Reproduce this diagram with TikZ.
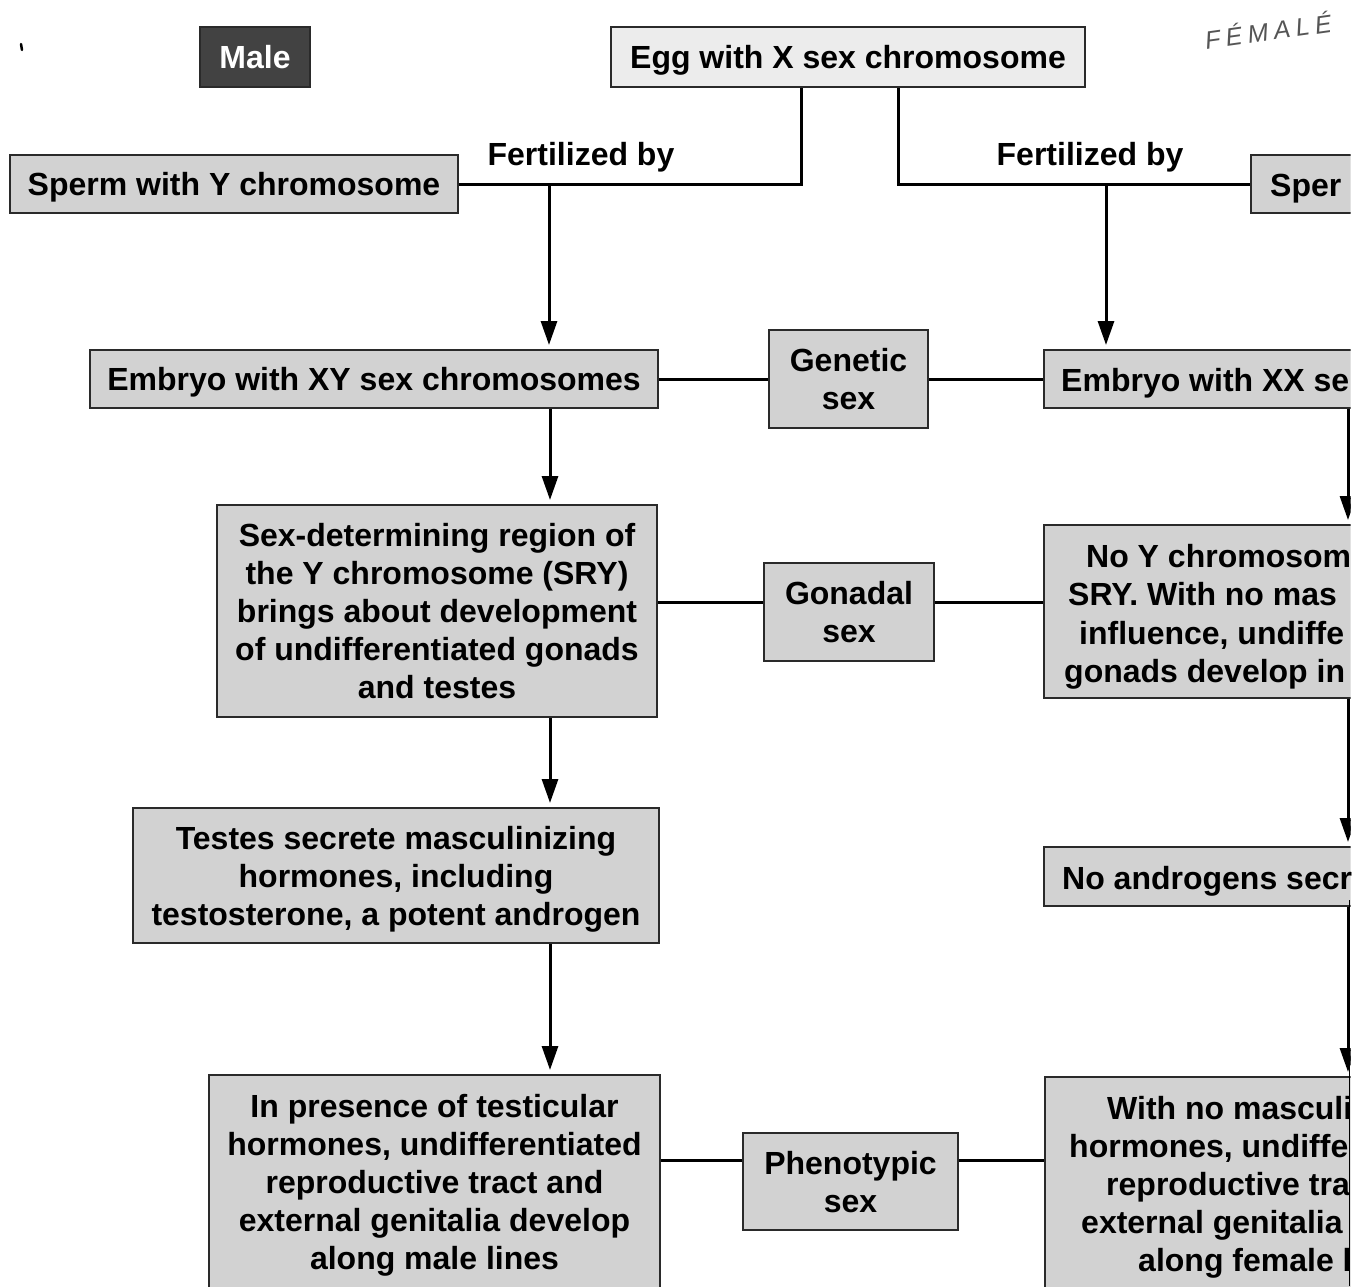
\documentclass[tikz,border=0pt]{standalone}
\usepackage{fontspec}
\setmainfont{Liberation Sans}
\newfontfamily\handfont[LetterSpace=22]{Liberation Sans}
\usetikzlibrary{arrows.meta}
\definecolor{boxfill}{HTML}{D2D2D2}
\definecolor{eggfill}{HTML}{ECECEC}
\definecolor{maledark}{HTML}{424242}
\definecolor{edge}{HTML}{2A2A2A}
\definecolor{handgray}{HTML}{555555}
\begin{document}
\begin{tikzpicture}[x=1pt,y=-1pt,
  gbox/.style={draw=edge, line width=2pt, fill=boxfill, inner sep=0pt, align=center,
               font=\fontsize{32}{38}\selectfont\bfseries, text=black, text depth=0pt},
  txt/.style={font=\fontsize{32}{38}\selectfont\bfseries, inner sep=0pt, text=black},
  conn/.style={line width=3pt, draw=black},
  arr/.style={conn, -{Triangle[length=24pt,width=16pt]}, shorten >=4pt}]
\useasboundingbox (0,0) rectangle (1369,1286);
\begin{scope}
\clip (0,0) rectangle (1350.5,1286);
% top row
\node[gbox, fill=maledark, text=white, minimum width=110pt, minimum height=60pt] (male) at (255,57) {Male};
\node[gbox, fill=eggfill, minimum width=474pt, minimum height=60pt] (egg) at (848,57) {Egg with X sex chromosome};
\node[font=\handfont\itshape\fontsize{25}{25}\selectfont, text=handgray, rotate=8, inner sep=0pt] (fem) at (1268,30) {FÉMALÉ};
\draw[line width=2.5pt, line cap=round] (21,44) -- (22,50);
% sperm row
\node[gbox, minimum width=448pt, minimum height=58pt] (spy) at (234,184) {Sperm with Y chromosome};
\node[gbox, minimum width=160pt, minimum height=58pt, anchor=west] (spx) at (1250,184) {};
\node[txt, text depth=0pt] (fl) at (581,154) {Fertilized by};
\node[txt, text depth=0pt] (fr) at (1090,154) {Fertilized by};
% genetic row
\node[gbox, minimum width=568pt, minimum height=58pt] (exy) at (374,379) {Embryo with XY sex chromosomes};
\node[gbox, minimum width=159pt, minimum height=98pt] (gen) at (848.5,379) {Genetic\\sex};
\node[gbox, minimum width=340pt, minimum height=58pt, anchor=west] (exx) at (1043,379) {};
% gonadal row
\node[gbox, minimum width=440pt, minimum height=212pt] (sry) at (437,611) {Sex-determining region of\\the Y chromosome (SRY)\\brings about development\\of undifferentiated gonads\\and testes};
\node[gbox, minimum width=170pt, minimum height=98pt] (gon) at (849,612) {Gonadal\\sex};
\node[gbox, minimum width=340pt, minimum height=173pt, anchor=west] (noy) at (1043,611.5) {};
% hormone row
\node[gbox, minimum width=526pt, minimum height=135pt] (tes) at (396,875.5) {Testes secrete masculinizing\\hormones, including\\testosterone, a potent androgen};
\node[gbox, minimum width=340pt, minimum height=59pt, anchor=west] (noa) at (1043,876.5) {};
% phenotypic row
\node[gbox, minimum width=451pt, minimum height=214pt] (inp) at (434.5,1182) {In presence of testicular\\hormones, undifferentiated\\reproductive tract and\\external genitalia develop\\along male lines};
\node[gbox, minimum width=215pt, minimum height=97pt] (phen) at (850.5,1181.5) {Phenotypic\\sex};
\node[gbox, minimum width=340pt, minimum height=212pt, anchor=west] (wno) at (1044,1183) {};
% connectors
\coordinate (cl) at (801,0);
\coordinate (cr) at (898,0);
\draw[conn] (egg.south -| cl) |- (spy.east);
\draw[conn] (egg.south -| cr) |- (spx.west);
\coordinate (jl) at (549,185);
\coordinate (jr) at (1106,185);
\draw[arr] (jl) -- (exy.north -| jl);
\draw[arr] (jr) -- (exx.north -| jr);
\draw[conn] (exy.east) -- (gen.west);
\draw[conn] (gen.east) -- (exx.west);
\coordinate (yg) at (0,602);
\draw[conn] (sry.east |- yg) -- (gon.west |- yg);
\draw[conn] (gon.east |- yg) -- (noy.west |- yg);
\coordinate (cm) at (550,0);
\draw[arr] (exy.south -| cm) -- (sry.north -| cm);
\draw[arr] (sry.south -| cm) -- (tes.north -| cm);
\draw[arr] (tes.south -| cm) -- (inp.north -| cm);
\coordinate (yp) at (0,1160);
\draw[conn] (inp.east |- yp) -- (phen.west |- yp);
\draw[conn] (phen.east |- yp) -- (wno.west |- yp);
\coordinate (cx) at (1348,0);
\draw[arr] (exx.south -| cx) -- (noy.north -| cx);
\draw[arr] (noy.south -| cx) -- (noa.north -| cx);
\draw[arr] (noa.south -| cx) -- (wno.north -| cx);
\draw[line width=1pt] (1349.5,900) -- (1349.5,1286);
\end{scope}
% texts of the right-hand boxes, as far as the picture shows them
\node[txt, anchor=base west] (spxt) at (1270,196) {Sper};
\node[txt, anchor=base west] (exxt) at (1061,391) {Embryo with XX se};
\node[txt, anchor=base west] (noy1) at (1086,567) {No Y chromosom};
\node[txt, anchor=base west] (noy2) at (1068,605) {SRY. With no mas};
\node[txt, anchor=base west] (noy3) at (1079,644) {influence, undiffe};
\node[txt, anchor=base west] (noy4) at (1064,682) {gonads develop in};
\node[txt, anchor=base west] (noat) at (1062,889) {No androgens secr};
\node[txt, anchor=base west] (wno1) at (1107,1119) {With no masculi};
\node[txt, anchor=base west] (wno2) at (1069,1157) {hormones, undiffe};
\node[txt, anchor=base west] (wno3) at (1106,1195) {reproductive tra};
\node[txt, anchor=base west] (wno4) at (1081,1233) {external genitalia};
\node[txt, anchor=base west] (wno5) at (1138,1271) {along female l};
\end{tikzpicture}
\end{document}
